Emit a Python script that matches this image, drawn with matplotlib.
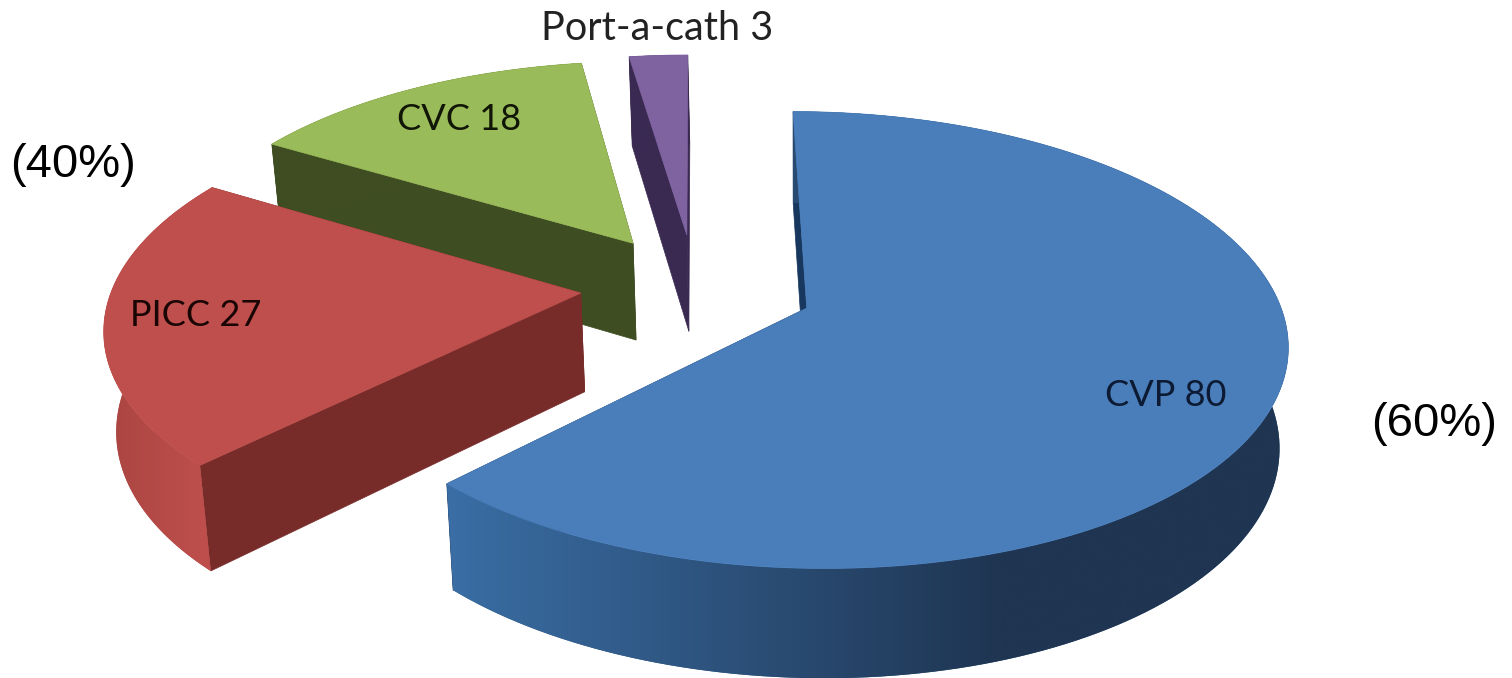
# coding: utf8

import numpy as np
import matplotlib
matplotlib.use("Agg")
import matplotlib.pyplot as plt
from matplotlib.colors import to_rgb
from matplotlib.patches import Polygon

names = ["CVP", "PICC", "CVC", "Port-a-cath"]
values = [80, 27, 18, 3]
group_labels = ["(60%)", "(40%)"]

top_colors = ["#4a7ebb", "#be4f4c", "#9abb59", "#7f63a1"]
wall_colors = ["#17375e", "#772c2a", "#3f4d22", "#3a2a52"]
side_left = ["#3a6ea5", "#a94541", "#3f4d22", "#3a2a52"]
side_right = ["#1f3552", "#bf4f4c", "#3f4d22", "#3a2a52"]
explode = [0.255, 0.245, 0.245, 0.245]

# projection of the pie plane on the picture
cx, cy = 695., 286.5
a, b, k = 468., 218., 0.138

def project(x, y):
    d = 1. + k*y
    return cx + a*x/d, cy - b*y/d

def drop(px, py):
    # same point on the lower face of the pie
    return px + (800. - px)*0.018, py + 87. + 0.04*py

def draw_slice(ax, i, t1, t0, z):
    # t1 > t0, angles in degrees
    mid = np.radians((t0 + t1)/2.)
    ox, oy = explode[i]*np.cos(mid), explode[i]*np.sin(mid)
    t = np.radians(np.linspace(t0, t1, 160))
    xs, ys = project(ox + np.cos(t), oy + np.sin(t))
    ax0, ay0 = project(ox, oy)

    # flat walls
    for j in [0, -1]:
        wx = np.array([ax0, xs[j]])
        wy = np.array([ay0, ys[j]])
        bx, by = drop(wx, wy)
        ax.fill(np.r_[wx, bx[::-1]], np.r_[wy, by[::-1]], color=wall_colors[i],
                lw=0.5, zorder=z)

    # outer side, shaded along x
    bx, by = drop(xs, ys)
    c0, c1 = np.array(to_rgb(side_left[i])), np.array(to_rgb(side_right[i]))
    if i == 0:
        lim0, lim1 = 445., 1000.
    else:
        lim0, lim1 = 100., 210.
    x0, x1 = min(xs.min(), bx.min()), max(xs.max(), bx.max())
    y0, y1 = min(ys.min(), by.min()), max(ys.max(), by.max())
    gx = np.linspace(x0, x1, 400)
    f = np.clip((gx - lim0)/(lim1 - lim0), 0, 1)[:, None]
    grad = (c0 + (c1 - c0)*f)[None, :, :]
    side = Polygon(np.c_[np.r_[xs, bx[::-1]], np.r_[ys, by[::-1]]], closed=True,
                   fc=tuple((c0 + c1)/2.), ec="none", zorder=z + 0.1)
    ax.add_patch(side)
    im = ax.imshow(grad, extent=[x0, x1, y1, y0], aspect="auto", zorder=z + 0.15,
                   interpolation="bilinear")
    im.set_clip_path(side)

    # top face
    ax.fill(np.r_[ax0, xs], np.r_[ay0, ys], color=top_colors[i], lw=0.5, zorder=z + 0.2)

fig = plt.figure(figsize=(15.12, 6.78), dpi=100)
ax = fig.add_axes([0, 0, 1, 1])
ax.axis("off")

# clockwise from 12 o'clock
order = [2, 3, 1, 0]
angles = np.cumsum([0] + values)/float(sum(values))*360.
for z, i in enumerate(order):
    draw_slice(ax, i, 90. - angles[i], 90. - angles[i+1], z + 1)

ax.set_xlim(0, 1512)
ax.set_ylim(678, 0)

label_font = dict(family="Lato", ha="center", va="center", zorder=10)
ax.text(1166, 396, "%s %d" % (names[0], values[0]), color="#0c1a33", fontsize=26, **label_font)
ax.text(196, 315, "%s %d" % (names[1], values[1]), color="#1a0505", fontsize=26, **label_font)
ax.text(459, 120, "%s %d" % (names[2], values[2]), color="#101505", fontsize=26, **label_font)
ax.text(657, 29, "%s %d" % (names[3], values[3]), color="#222222", fontsize=28.5, **label_font)

ax.text(1434, 424, group_labels[0], family="Liberation Sans", fontsize=34,
        ha="center", va="center", color="black")
ax.text(73, 165, group_labels[1], family="Liberation Sans", fontsize=34,
        ha="center", va="center", color="black")

fig.savefig("out.png", dpi=100)
